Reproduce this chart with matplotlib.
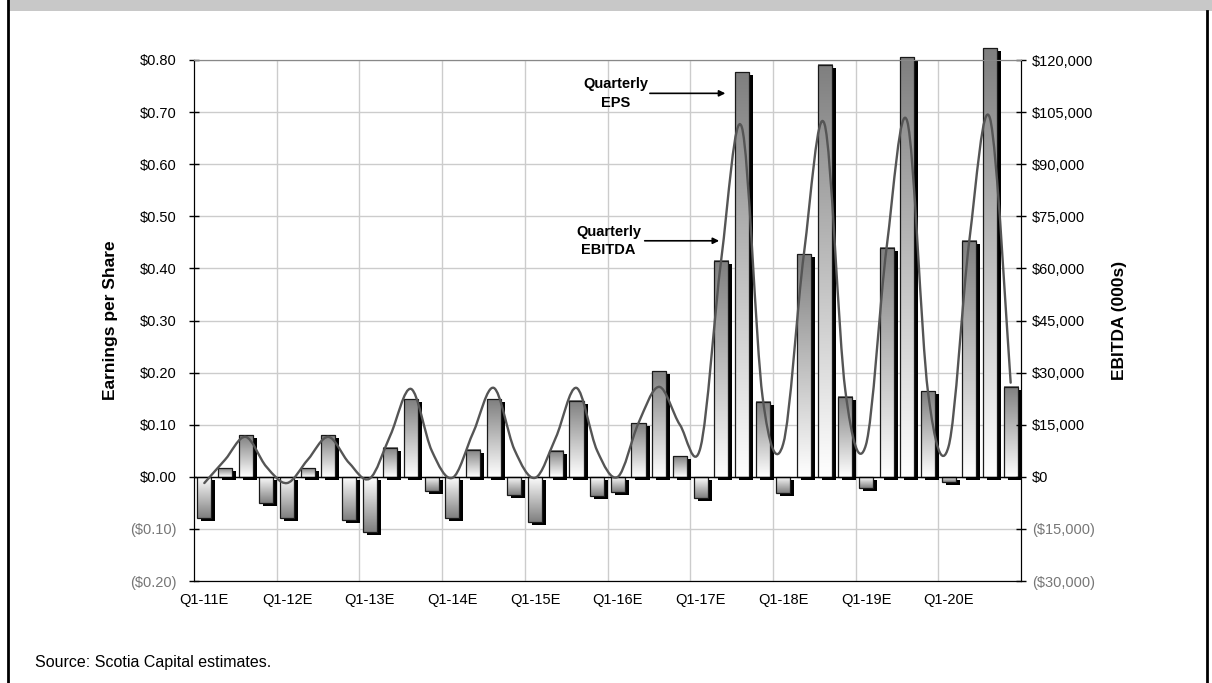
import numpy as np
import matplotlib
matplotlib.use('Agg')
import matplotlib.pyplot as plt
from matplotlib import transforms
from matplotlib.colors import LinearSegmentedColormap
from matplotlib.path import Path
from matplotlib.patches import PathPatch, Rectangle
from matplotlib.lines import Line2D

plt.rcParams['font.family'] = ['Liberation Sans', 'DejaVu Sans']

# quarterly data, Q1-11E .. Q4-20E
years = ['11', '12', '13', '14', '15', '16', '17', '18', '19', '20']
quarters = ['Q%d-%sE' % (q, y) for y in years for q in range(1, 5)]

eps = [-0.079, 0.017, 0.080, -0.050,
       -0.080, 0.017, 0.080, -0.083,
       -0.105, 0.056, 0.149, -0.028,
       -0.080, 0.052, 0.149, -0.035,
       -0.087, 0.050, 0.146, -0.036,
       -0.030, 0.103, 0.203, 0.040,
       -0.040, 0.415, 0.777, 0.144,
       -0.031, 0.428, 0.791, 0.154,
       -0.021, 0.440, 0.806, 0.165,
       -0.010, 0.453, 0.823, 0.173]

ebitda = [-1800, 4900, 11500, 2900,
          -1800, 4900, 11500, 4000,
          -500, 12000, 25300, 7500,
          -300, 12700, 25600, 7800,
          -300, 11300, 25600, 7500,
          0, 15500, 25900, 15000,
          8500, 62500, 100600, 23000,
          9500, 64200, 101500, 25000,
          9200, 66000, 102300, 24500,
          8800, 68000, 103200, 27100]

eps_ticks = [-0.20, -0.10, 0.00, 0.10, 0.20, 0.30, 0.40, 0.50, 0.60, 0.70, 0.80]
ebitda_ticks = [-30000, -15000, 0, 15000, 30000, 45000, 60000, 75000, 90000, 105000, 120000]


def money(v, dec):
    s = '$' + format(abs(v), ',.%df' % dec)
    return '(' + s + ')' if v < 0 else s


fig = plt.figure(figsize=(12.12, 6.83), dpi=100)
ax = fig.add_axes([194 / 1212, 1 - 581 / 683, 827 / 1212, 521 / 683])
ax2 = ax.twinx()

x = np.arange(len(eps))
w = 0.68

# shadows
shadow = transforms.offset_copy(ax.transData, fig=fig, x=4, y=-3, units='dots')
ax.bar(x, eps, width=w, color='black', transform=shadow, zorder=2, clip_on=False)

# gradient bars
cmap = LinearSegmentedColormap.from_list('g', ['#ffffff', '#7f7f7f'])
grad = np.linspace(0, 1, 256).reshape(-1, 1)
for xi, v in zip(x, eps):
    ax.imshow(grad, cmap=cmap, origin='lower', aspect='auto', interpolation='bilinear',
              extent=(xi - w / 2, xi + w / 2, 0, v), zorder=3, clip_on=False)
ax.bar(x, eps, width=w, facecolor='none', edgecolor='#1a1a1a', linewidth=0.9,
       zorder=4, clip_on=False)

ax.axhline(0, color='black', lw=1.0, zorder=5)

ax.set_xlim(-0.5, len(eps) - 0.5)
ax.set_ylim(-0.2, 0.8)
ax2.set_ylim(-30000, 120000)

# grid
ax.set_yticks(eps_ticks, labels=[money(v, 2) for v in eps_ticks])
ax.set_xticks(np.arange(0, len(eps), 4), labels=quarters[::4])
ax.set_xticks(np.arange(3.5, len(eps) - 1, 4), minor=True)
ax.grid(True, axis='y', color='#cccccc', lw=1.0, zorder=0)
ax.grid(True, axis='x', which='minor', color='#cccccc', lw=1.0, zorder=0)
ax.set_axisbelow(True)

ax2.set_yticks(ebitda_ticks, labels=[money(v, 0) for v in ebitda_ticks])

for lab, v in zip(ax.get_yticklabels(), eps_ticks):
    lab.set_color('#777777' if v < 0 else 'black')
for lab, v in zip(ax2.get_yticklabels(), ebitda_ticks):
    lab.set_color('#777777' if v < 0 else 'black')

ax.tick_params(axis='y', direction='inout', length=7, width=1, labelsize=10.5, pad=9)
ax2.tick_params(axis='y', direction='inout', length=7, width=1, labelsize=10.5, pad=4.5)
ax.tick_params(axis='x', which='both', length=0, labelsize=10.5, pad=8.5)

for a in (ax, ax2):
    a.spines['top'].set_color('#888888')
    a.spines['left'].set_color('black')
    a.spines['right'].set_color('black')
    a.spines['bottom'].set_color('black')

# smoothed EBITDA line (bezier through the points)
pts = np.column_stack([x, ebitda]).astype(float)
n = len(pts)
verts = [pts[0]]
codes = [Path.MOVETO]
for i in range(n - 1):
    p0 = pts[max(i - 1, 0)]
    p1 = pts[i]
    p2 = pts[i + 1]
    p3 = pts[min(i + 2, n - 1)]
    verts += [p1 + (p2 - p0) / 6, p2 - (p3 - p1) / 6, p2]
    codes += [Path.CURVE4] * 3
ax2.add_patch(PathPatch(Path(verts, codes), facecolor='none', edgecolor='#555555',
                        lw=1.7, zorder=6, capstyle='round', joinstyle='round'))

ax.set_ylabel('Earnings per Share', fontsize=12.5, fontweight='bold')
ax.yaxis.set_label_coords(-0.092, 0.5)
ax2.set_ylabel('EBITDA (000s)', fontsize=12.5, fontweight='bold')
ax2.yaxis.set_label_coords(1.11, 0.5)

arrow = dict(arrowstyle='-|>', color='black', lw=1.2, mutation_scale=9, shrinkA=0, shrinkB=0)
ax.annotate('', xy=(25.2, 0.736), xytext=(21.55, 0.736), arrowprops=arrow, zorder=7)
ax.text(19.9, 0.736, 'Quarterly\nEPS', ha='center', va='center', fontsize=10.5,
        fontweight='bold', linespacing=1.4, zorder=7)
ax.annotate('', xy=(24.9, 0.453), xytext=(21.3, 0.453), arrowprops=arrow, zorder=7)
ax.text(19.55, 0.453, 'Quarterly\nEBITDA', ha='center', va='center', fontsize=10.5,
        fontweight='bold', linespacing=1.4, zorder=7)

# page decoration
fig.add_artist(Rectangle((9 / 1212, 1 - 10.5 / 683), 1, 10.5 / 683,
                         transform=fig.transFigure, color='#c8c8c8', lw=0))
fig.add_artist(Line2D([8 / 1212, 8 / 1212], [0, 1], transform=fig.transFigure,
                      color='black', lw=2))
fig.add_artist(Line2D([1207 / 1212, 1207 / 1212], [0, 1 - 10.5 / 683],
                      transform=fig.transFigure, color='black', lw=2))
fig.text(35 / 1212, 1 - 663 / 683, 'Source: Scotia Capital estimates.', fontsize=11.5,
         va='center', ha='left')

fig.savefig('out.png', dpi=100)
